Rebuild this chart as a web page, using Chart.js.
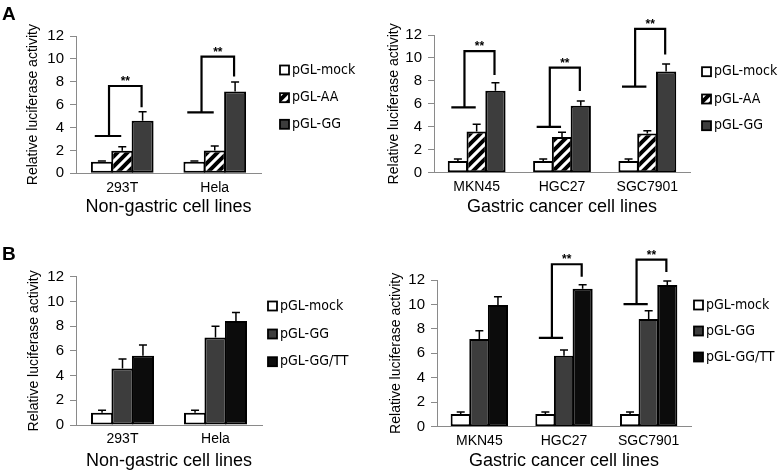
<!DOCTYPE html>
<html lang="en">
<head>
<meta charset="UTF-8">
<title>Relative luciferase activity</title>
<script src="https://cdn.jsdelivr.net/npm/chart.js"></script>
<style>
  body { margin: 0; background: #fff; }
  #wrap { position: relative; width: 778px; height: 471px; overflow: hidden; }
  #wrap canvas { position: absolute; }
</style>
</head>
<body>
<div id="wrap">
  <canvas id="aNon"></canvas>
  <canvas id="aGas"></canvas>
  <canvas id="bNon"></canvas>
  <canvas id="bGas"></canvas>
</div>
<script>
const nonGastric = ['293T', 'Hela'];
const gastric = ['MKN45', 'HGC27', 'SGC7901'];
const yMax = 12;
const yStep = 2;

// panel A: mock / AA / GG
const aNonMock = [1.0, 1.0];
const aNonMockErr = [0.08, 0.08];
const aNonAA = [1.98, 2.0];
const aNonAAErr = [0.35, 0.38];
const aNonGG = [4.6, 7.14];
const aNonGGErr = [0.78, 0.84];

const aGasMock = [1.02, 1.02, 1.02];
const aGasMockErr = [0.17, 0.17, 0.17];
const aGasAA = [3.58, 3.12, 3.42];
const aGasAAErr = [0.65, 0.4, 0.24];
const aGasGG = [7.15, 5.84, 8.83];
const aGasGGErr = [0.68, 0.4, 0.64];

// panel B: mock / GG / GG-TT
const bNonMock = [1.0, 1.0];
const bNonMockErr = [0.19, 0.19];
const bNonGG = [4.58, 7.09];
const bNonGGErr = [0.76, 0.91];
const bNonTT = [5.61, 8.41];
const bNonTTErr = [0.86, 0.69];

const bGasMock = [1.04, 1.04, 1.04];
const bGasMockErr = [0.17, 0.17, 0.17];
const bGasGG = [7.18, 5.81, 8.82];
const bGasGGErr = [0.66, 0.46, 0.66];
const bGasTT = [9.95, 11.29, 11.6];
const bGasTTErr = [0.68, 0.33, 0.32];

// ** brackets: category, left foot, top, right foot (activity units)
const aNonBrCat = [0, 1];
const aNonBrBase = [3.26, 5.33];
const aNonBrTop = [7.63, 10.2];
const aNonBrEnd = [5.77, 8.45];

const aGasBrCat = [0, 1, 2];
const aGasBrBase = [5.7, 4.0, 7.5];
const aGasBrTop = [10.6, 9.16, 12.53];
const aGasBrEnd = [8.52, 7.12, 10.29];

const bGasBrCat = [1, 2];
const bGasBrBase = [7.26, 10.03];
const bGasBrTop = [13.29, 13.66];
const bGasBrEnd = [12.27, 12.65];

Chart.defaults.font.family = "'Liberation Sans', Arial, sans-serif";
Chart.defaults.color = '#000';

// white with black "/" stripes for pGL-AA
function hatch() {
  const c = document.createElement('canvas');
  c.width = 10; c.height = 10;
  const g = c.getContext('2d');
  g.fillStyle = '#fff';
  g.fillRect(0, 0, 10, 10);
  g.strokeStyle = '#000';
  g.lineWidth = 4;
  g.beginPath();
  g.moveTo(-2, 12); g.lineTo(12, -2);
  g.moveTo(-7, 7); g.lineTo(7, -7);
  g.moveTo(3, 17); g.lineTo(17, 3);
  g.stroke();
  return g.createPattern(c, 'repeat');
}
const stripes = hatch();
const MOCK = '#ffffff', GG = '#3d3d3d', TT = '#0c0c0c';

function ds(label, data, err, fill) {
  return {
    label, data, err,
    backgroundColor: fill,
    borderColor: '#000',
    borderWidth: 2,
    borderSkipped: false,
    categoryPercentage: 0.66,
    barPercentage: 1.08
  };
}

function marks(cfg) {
  return {
    id: 'marks',
    afterDatasetsDraw(chart) {
      const ctx = chart.ctx;
      const y = chart.scales.y, x = chart.scales.x;
      ctx.save();
      ctx.strokeStyle = '#000';
      ctx.fillStyle = '#000';

      // error bars
      ctx.lineWidth = 1.5;
      chart.data.datasets.forEach((d, i) => {
        chart.getDatasetMeta(i).data.forEach((bar, j) => {
          const top = y.getPixelForValue(d.data[j] + d.err[j]);
          ctx.beginPath();
          ctx.moveTo(bar.x, bar.y);
          ctx.lineTo(bar.x, top);
          ctx.moveTo(bar.x - 4, top);
          ctx.lineTo(bar.x + 4, top);
          ctx.stroke();
        });
      });

      // significance brackets
      if (cfg.br) {
        const m1 = chart.getDatasetMeta(1).data, m2 = chart.getDatasetMeta(2).data;
        cfg.br.cat.forEach((c, k) => {
          const cx = m1[c].x;
          const s = m2[c].x - m1[c].x;
          const yb = y.getPixelForValue(cfg.br.base[k]);
          const yt = y.getPixelForValue(cfg.br.top[k]);
          const ye = y.getPixelForValue(cfg.br.end[k]);
          const xl = cx - 0.65 * s, xr = cx + 0.95 * s;
          ctx.lineWidth = 2.2;
          ctx.beginPath();
          ctx.moveTo(cx - 1.35 * s, yb);
          ctx.lineTo(cx - 0.05 * s, yb);
          ctx.moveTo(xl, yb);
          ctx.lineTo(xl, yt);
          ctx.lineTo(xr, yt);
          ctx.lineTo(xr, ye);
          ctx.stroke();
          ctx.font = "bold 12px 'Liberation Sans', Arial, sans-serif";
          ctx.textAlign = 'center';
          ctx.textBaseline = 'alphabetic';
          ctx.fillText('**', (xl + xr) / 2, yt - 1);
        });
      }

      // legend
      ctx.font = "14px 'DejaVu Sans Condensed', 'DejaVu Sans', sans-serif";
      ctx.textAlign = 'left';
      ctx.textBaseline = 'middle';
      chart.data.datasets.forEach((d, i) => {
        const ly = cfg.legY[i];
        ctx.fillStyle = d.backgroundColor;
        ctx.fillRect(cfg.legX, ly - 4.5, 9, 9);
        ctx.lineWidth = 1.8;
        ctx.strokeRect(cfg.legX, ly - 4.5, 9, 9);
        ctx.fillStyle = '#000';
        ctx.fillText(d.label, cfg.legX + 12, ly);
      });

      if (cfg.letter) {
        ctx.font = "bold 19px 'Liberation Sans', Arial, sans-serif";
        ctx.textBaseline = 'alphabetic';
        ctx.fillText(cfg.letter, 2, cfg.letterY);
      }
      ctx.restore();
    }
  };
}

// p = page geometry of one panel
function panel(id, p, labels, datasets, xTitle) {
  const cv = document.getElementById(id);
  cv.width = p.w; cv.height = p.h;
  cv.style.left = p.x + 'px';
  cv.style.top = p.y + 'px';
  const left = p.left - p.x, right = p.right - p.x;
  const top = p.top - p.y, bottom = p.bottom - p.y;
  new Chart(cv.getContext('2d'), {
    type: 'bar',
    data: { labels, datasets },
    options: {
      responsive: false,
      animation: false,
      layout: { padding: { left: 0, top: top, right: p.w - right, bottom: 0 } },
      plugins: { legend: { display: false }, tooltip: { enabled: false } },
      scales: {
        x: {
          grid: { display: false, drawTicks: false },
          border: { color: '#8a8a8a', width: 1 },
          ticks: { font: { size: 14 }, padding: 6 },
          title: {
            display: true, text: xTitle,
            font: { size: 18, lineHeight: 1 },
            padding: { top: 0, bottom: p.h - 9 - (p.xTitleY - p.y) }
          },
          afterFit(s) { s.height = p.h - bottom; }
        },
        y: {
          min: 0, max: yMax,
          ticks: { stepSize: yStep, font: { size: 15 }, padding: 6 },
          grid: { drawOnChartArea: false, tickLength: 6, color: '#8a8a8a' },
          border: { color: '#8a8a8a', width: 1 },
          title: {
            display: true, text: 'Relative luciferase activity',
            font: { size: 14, lineHeight: 1 },
            padding: { top: p.yTitleX - p.x - 7, bottom: 0 }
          },
          afterFit(s) { s.width = left; }
        }
      }
    },
    plugins: [marks({
      legX: p.legX - p.x,
      legY: p.legY.map(v => v - p.y),
      br: p.br,
      letter: p.letter,
      letterY: p.letterY - p.y
    })]
  });
}

panel('aNon', {
  x: 0, y: 0, w: 384, h: 232, left: 76, right: 261, top: 36, bottom: 173.3,
  yTitleX: 33, xTitleY: 207, legX: 280, legY: [70, 97.7, 124.3],
  letter: 'A', letterY: 20,
  br: { cat: aNonBrCat, base: aNonBrBase, top: aNonBrTop, end: aNonBrEnd }
}, nonGastric, [
  ds('pGL-mock', aNonMock, aNonMockErr, MOCK),
  ds('pGL-AA', aNonAA, aNonAAErr, stripes),
  ds('pGL-GG', aNonGG, aNonGGErr, GG)
], 'Non-gastric cell lines');

panel('aGas', {
  x: 384, y: 0, w: 394, h: 232, left: 434, right: 690, top: 35, bottom: 172.7,
  yTitleX: 394, xTitleY: 207, legX: 702, legY: [71.7, 99, 125.7],
  br: { cat: aGasBrCat, base: aGasBrBase, top: aGasBrTop, end: aGasBrEnd }
}, gastric, [
  ds('pGL-mock', aGasMock, aGasMockErr, MOCK),
  ds('pGL-AA', aGasAA, aGasAAErr, stripes),
  ds('pGL-GG', aGasGG, aGasGGErr, GG)
], 'Gastric cancer cell lines');

panel('bNon', {
  x: 0, y: 232, w: 384, h: 239, left: 76, right: 262, top: 276.7, bottom: 425,
  yTitleX: 34, xTitleY: 461, legX: 268, legY: [306, 334, 361.7],
  letter: 'B', letterY: 260
}, nonGastric, [
  ds('pGL-mock', bNonMock, bNonMockErr, MOCK),
  ds('pGL-GG', bNonGG, bNonGGErr, GG),
  ds('pGL-GG/TT', bNonTT, bNonTTErr, TT)
], 'Non-gastric cell lines');

panel('bGas', {
  x: 384, y: 232, w: 394, h: 239, left: 437, right: 691, top: 280, bottom: 426.7,
  yTitleX: 396, xTitleY: 461, legX: 694, legY: [305, 331, 357],
  br: { cat: bGasBrCat, base: bGasBrBase, top: bGasBrTop, end: bGasBrEnd }
}, gastric, [
  ds('pGL-mock', bGasMock, bGasMockErr, MOCK),
  ds('pGL-GG', bGasGG, bGasGGErr, GG),
  ds('pGL-GG/TT', bGasTT, bGasTTErr, TT)
], 'Gastric cancer cell lines');
</script>
</body>
</html>
